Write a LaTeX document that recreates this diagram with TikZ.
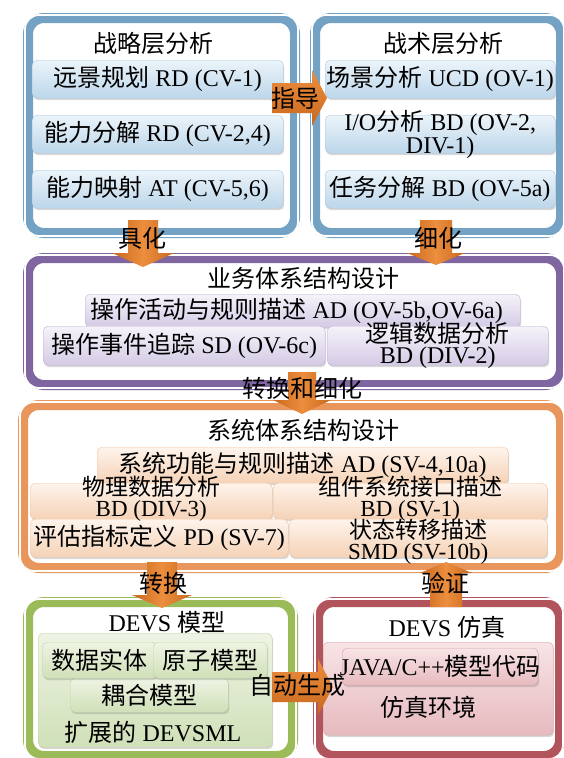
\documentclass[tikz,border=0pt]{standalone}
\usepackage{fontspec}
\setmainfont{Liberation Serif}
\newfontfamily\cjkfont{Noto Sans CJK SC}
\newcommand\zh[1]{{\cjkfont #1}}
\newcommand\fs{\fontsize{24}{20.5}\selectfont}
\newcommand\fst{\fontsize{23}{20.2}\selectfont}
\usetikzlibrary{shadows}
\definecolor{blueC}{RGB}{115,162,196}
\definecolor{purpleC}{RGB}{128,102,161}
\definecolor{orangeC}{RGB}{233,150,92}
\definecolor{greenC}{RGB}{155,187,89}
\definecolor{redC}{RGB}{178,84,92}
\definecolor{arrL}{RGB}{236,142,62}
\definecolor{arrD}{RGB}{200,104,30}
\definecolor{bT}{RGB}{236,244,250}\definecolor{bB}{RGB}{188,214,234}\definecolor{bD}{RGB}{168,199,224}
\definecolor{pT}{RGB}{246,243,250}\definecolor{pB}{RGB}{212,202,229}\definecolor{pD}{RGB}{190,176,212}
\definecolor{oT}{RGB}{254,244,236}\definecolor{oB}{RGB}{245,210,182}\definecolor{oD}{RGB}{240,196,160}
\definecolor{gT}{RGB}{238,244,228}\definecolor{gB}{RGB}{208,224,184}\definecolor{gD}{RGB}{192,211,160}
\definecolor{rT}{RGB}{248,228,230}\definecolor{rB}{RGB}{230,186,191}\definecolor{rD}{RGB}{214,160,166}
\tikzset{
  frame/.style={draw=#1, line width=10pt, rounded corners=16pt, inner sep=0pt, anchor=north west},
  whiteline/.style={draw=white, line width=1.8pt, rounded corners=14pt},
  item/.style={rounded corners=5pt, inner sep=0pt, anchor=north west,
    drop shadow={opacity=.3, shadow xshift=1pt, shadow yshift=-2pt}},
  bitem/.style={item, draw=bD, top color=bT, bottom color=bB},
  pitem/.style={item, draw=pD, top color=pT, bottom color=pB},
  oitem/.style={item, draw=oD, top color=oT, bottom color=oB},
  gitem/.style={item, draw=gD, top color=gT, bottom color=gB},
  ritem/.style={item, draw=rD, top color=rT, bottom color=rB},
  vshade/.style={left color=arrD, right color=arrD, middle color=arrL},
  hshade/.style={top color=arrL, bottom color=arrD},
  lbl/.style={inner sep=0pt, align=center},
}
\newcommand\frm[6]{%
  \node[frame=#2, minimum width=#5, minimum height=#6] (#1) at (#3,#4) {};
  \draw[whiteline] ([xshift=2pt,yshift=-2pt]#1.north west) rectangle ([xshift=-2pt,yshift=2pt]#1.south east);}
\newcommand\varrowshape[6]{%
  \shade[vshade] (#1-#5,#2) -- (#1+#5,#2) -- (#1+#5,#3) -- (#1+#6,#3) -- (#1,#4) -- (#1-#6,#3) -- (#1-#5,#3) -- cycle;}
\newcommand\harrowshape[6]{%
  \shade[hshade] (#2,#1-#5) -- (#3,#1-#5) -- (#3,#1-#6) -- (#4,#1) -- (#3,#1+#6) -- (#3,#1+#5) -- (#2,#1+#5) -- cycle;}
\begin{document}
\begin{tikzpicture}[x=1pt, y=-1pt, font=\fs]
\useasboundingbox[fill=white] (0,0) rectangle (563,758);
% frames
\frm{fL}{blueC}{23}{13}{267}{215}
\frm{fR}{blueC}{310}{13}{246}{215}
\frm{fP}{purpleC}{23}{253}{533}{127}
\frm{fO}{orangeC}{18}{400}{538}{163}
\frm{fG}{greenC}{23}{597}{265}{154}
\frm{fRd}{redC}{313}{597}{242}{154}
% titles
\node[lbl] (tL) at (153,43) {\zh{战略层分析}};
\node[lbl] (tR) at (443,43) {\zh{战术层分析}};
\node[lbl] (tP) at (303,278) {\zh{业务体系结构设计}};
\node[lbl] (tO) at (303,430) {\zh{系统体系结构设计}};
\node[lbl] (tG) at (167,622) {DEVS \zh{模型}};
\node[lbl] (tRd) at (447,627) {DEVS \zh{仿真}};
% boxes
\node[bitem, minimum width=251pt, minimum height=38pt] (b1) at (32,60) {};
\node[bitem, minimum width=251pt, minimum height=38pt] (b2) at (32,115) {};
\node[bitem, minimum width=251pt, minimum height=38pt] (b3) at (32,170) {};
\node[bitem, minimum width=230pt, minimum height=38pt] (c1) at (325,60) {};
\node[bitem, minimum width=230pt, minimum height=38pt] (c2) at (325,115) {};
\node[bitem, minimum width=230pt, minimum height=38pt] (c3) at (325,170) {};
\node[pitem, minimum width=435pt, minimum height=33pt] (p1) at (85,294) {};
\node[pitem, minimum width=282pt, minimum height=39pt] (p2) at (43,326) {};
\node[pitem, minimum width=221pt, minimum height=39pt] (p3) at (327,326) {};
\node[oitem, minimum width=411pt, minimum height=36pt] (o1) at (97,447) {};
\node[oitem, minimum width=242pt, minimum height=36pt] (o2) at (30,483) {};
\node[oitem, minimum width=274pt, minimum height=36pt] (o3) at (273,483) {};
\node[oitem, minimum width=258pt, minimum height=38pt] (o4) at (30,519) {};
\node[oitem, minimum width=258pt, minimum height=38pt] (o5) at (289,519) {};
\node[gitem, minimum width=234pt, minimum height=114pt] (gbig) at (38,633) {};
\node[gitem, minimum width=158pt, minimum height=34pt] (g3) at (70,678) {};
\node[gitem, minimum width=115pt, minimum height=36pt] (g1) at (42,642) {};
\node[gitem, minimum width=114pt, minimum height=36pt] (g2) at (153,642) {};
\node[ritem, minimum width=230pt, minimum height=93pt] (rbig) at (323,642) {};
\node[ritem, minimum width=196pt, minimum height=37pt] (r1) at (342,648) {};
% box texts
\node[lbl] (b1t) at (b1.center) {\zh{远景规划} RD (CV-1)};
\node[lbl] (b2t) at (b2.center) {\zh{能力分解} RD (CV-2,4)};
\node[lbl] (b3t) at (b3.center) {\zh{能力映射} AT (CV-5,6)};
\node[lbl] (c1t) at (c1.center) {\zh{场景分析} UCD (OV-1)};
\node[lbl] (c2t) at (c2.center) {I/O\zh{分析} BD (OV-2,\\DIV-1)};
\node[lbl] (c3t) at (c3.center) {\zh{任务分解} BD (OV-5a)};
\node[lbl] (p1t) at ([xshift=-6pt]p1.center) {\zh{操作活动与规则描述} AD (OV-5b,OV-6a)};
\node[lbl] (p2t) at (p2.center) {\zh{操作事件追踪} SD (OV-6c)};
\node[lbl] (p3t) at (p3.center) {\zh{逻辑数据分析}\\BD (DIV-2)};
\node[lbl] (o1t) at (o1.center) {\zh{系统功能与规则描述} AD (SV-4,10a)};
\node[lbl, font=\fst] (o2t) at ([yshift=2.5pt]o2.center) {\zh{物理数据分析}\\BD (DIV-3)};
\node[lbl, font=\fst] (o3t) at ([yshift=2.5pt]o3.center) {\zh{组件系统接口描述}\\BD (SV-1)};
\node[lbl] (o4t) at (o4.center) {\zh{评估指标定义} PD (SV-7)};
\node[lbl, font=\fst] (o5t) at ([yshift=-3.5pt]o5.center) {\zh{状态转移描述}\\SMD (SV-10b)};
\node[lbl] (gtext) at (153,732) {\zh{扩展的} DEVSML};
\node[lbl] (g3t) at (g3.center) {\zh{耦合模型}};
\node[lbl] (g1t) at (g1.center) {\zh{数据实体}};
\node[lbl] (g2t) at (g2.center) {\zh{原子模型}};
\node[lbl] (rtext) at (428,707) {\zh{仿真环境}};
\node[lbl] (r1t) at (r1.center) {JAVA/C++\zh{模型代码}};
% arrows
\varrowshape{143}{220}{253}{267}{15}{31}
\varrowshape{436}{220}{253}{265}{16}{29}
\varrowshape{302}{372}{400}{414}{14}{29}
\varrowshape{162}{562}{595}{608}{15}{30}
\varrowshape{446}{607}{573}{562}{16}{26}
\harrowshape{98}{272}{312}{327}{15}{28}
\harrowshape{687}{272}{318}{333}{15}{28}
% arrow labels
\node[lbl] (a1) at (142,238) {\zh{具化}};
\node[lbl] (a2) at (438,238) {\zh{细化}};
\node[lbl] (a3) at (302,388) {\zh{转换和细化}};
\node[lbl] (a4) at (163,583) {\zh{转换}};
\node[lbl] (a5) at (445,583) {\zh{验证}};
\node[lbl] (a6) at (295,98) {\zh{指导}};
\node[lbl] (a7) at (297,685) {\zh{自动生成}};
\end{tikzpicture}
\end{document}
